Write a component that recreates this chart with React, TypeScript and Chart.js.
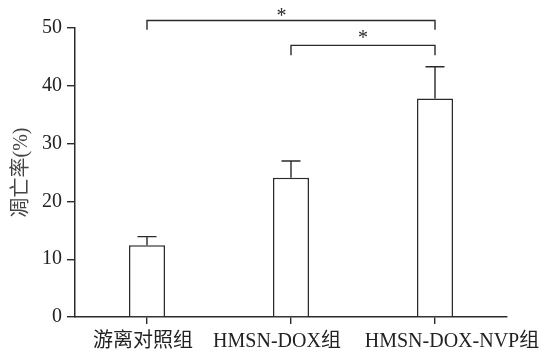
import React, { useEffect, useRef } from "react";
import { Chart, registerables } from "chart.js";

Chart.register(...registerables);

const categories = ["游离对照组", "HMSN-DOX组", "HMSN-DOX-NVP组"];
const meanValues = [12.4, 24.1, 37.8];
const errorTops = [13.9, 27.0, 43.3];
const yTicks = [0, 10, 20, 30, 40, 50];
const yTitle = "凋亡率(%)";
// brackets: [fromIndex, toIndex, lineValue, legBottomValue, starValue, starFraction]
const brackets = [
  [0, 2, 51.3, 49.7, 52.8, 0.467],
  [1, 2, 47.0, 45.3, 48.9, 0.5],
];
const sigLabel = "*";

const SERIF = "'Liberation Serif', 'Noto Sans CJK SC', serif";
const INK = "#2a2a2a";
// horizontal nudges for the category labels (the source staggers them to avoid overlap)
const LABEL_NUDGE = [-4, -14, 17];

const overlayPlugin = {
  id: "overlay",
  afterDatasetsDraw(chart: any) {
    const { ctx, scales } = chart;
    const x = scales.x;
    const y = scales.y;
    const meta = chart.getDatasetMeta(0);
    ctx.save();
    ctx.strokeStyle = INK;
    ctx.lineWidth = 1.4;
    // error bars
    meta.data.forEach((bar: any, i: number) => {
      const cx = bar.x;
      const top = y.getPixelForValue(errorTops[i]);
      const base = y.getPixelForValue(meanValues[i]);
      ctx.beginPath();
      ctx.moveTo(cx, base);
      ctx.lineTo(cx, top);
      ctx.moveTo(cx - 9.5, top);
      ctx.lineTo(cx + 9.5, top);
      ctx.stroke();
    });
    // brackets
    ctx.fillStyle = INK;
    ctx.font = "20px " + SERIF;
    ctx.textAlign = "center";
    ctx.textBaseline = "alphabetic";
    brackets.forEach((b) => {
      const [i0, i1, lineV, legV, starV, frac] = b;
      const x0 = x.getPixelForValue(i0);
      const x1 = x.getPixelForValue(i1);
      const yl = y.getPixelForValue(lineV);
      const yb = y.getPixelForValue(legV);
      ctx.beginPath();
      ctx.moveTo(x0, yb);
      ctx.lineTo(x0, yl);
      ctx.lineTo(x1, yl);
      ctx.lineTo(x1, yb);
      ctx.stroke();
      ctx.fillText(sigLabel, x0 + (x1 - x0) * frac, y.getPixelForValue(starV) + 10);
    });
    // category labels
    ctx.fillStyle = "#222";
    ctx.font = "20px " + SERIF;
    ctx.textAlign = "center";
    ctx.textBaseline = "middle";
    categories.forEach((c, i) => {
      ctx.fillText(c, x.getPixelForValue(i) + LABEL_NUDGE[i], x.top + 25);
    });
    ctx.restore();
  },
};

export default function App() {
  const ref = useRef<HTMLCanvasElement>(null);
  useEffect(() => {
    document.body.style.margin = "0";
    const chart = new Chart(ref.current as HTMLCanvasElement, {
      type: "bar",
      data: {
        labels: categories,
        datasets: [
          {
            data: meanValues,
            backgroundColor: "#ffffff",
            borderColor: INK,
            borderWidth: 1.5,
            barPercentage: 0.25,
            categoryPercentage: 1,
          },
        ],
      },
      options: {
        responsive: false,
        animation: false,
        layout: { padding: { top: 28, right: 33, left: 0, bottom: 0 } },
        plugins: { legend: { display: false }, tooltip: { enabled: false } },
        scales: {
          x: {
            offset: true,
            grid: {
              display: true,
              offset: false,
              drawOnChartArea: false,
              drawTicks: true,
              tickLength: 7,
              color: INK,
              lineWidth: 1.4,
            },
            border: { display: true, color: INK, width: 1.5 },
            ticks: {
              display: false,
            },
            afterFit: (s: any) => {
              s.height = 34;
            },
          },
          y: {
            min: 0,
            max: 50,
            afterBuildTicks: (s: any) => {
              s.ticks = yTicks.map((v) => ({ value: v }));
            },
            grid: {
              display: true,
              drawOnChartArea: false,
              drawTicks: true,
              tickLength: 8,
              color: INK,
              lineWidth: 1.4,
            },
            border: { display: true, color: INK, width: 1.5 },
            ticks: {
              color: "#222",
              font: { family: SERIF, size: 20 },
              padding: 5,
            },
            title: {
              display: true,
              text: yTitle,
              color: "#444",
              font: { family: SERIF, size: 20 },
              padding: { top: 10, bottom: 0 },
            },
            afterFit: (s: any) => {
              s.width = 75;
            },
          },
        },
      },
      plugins: [overlayPlugin],
    });
    return () => chart.destroy();
  }, []);
  return <canvas ref={ref} width={540} height={351} style={{ display: "block" }} />;
}
